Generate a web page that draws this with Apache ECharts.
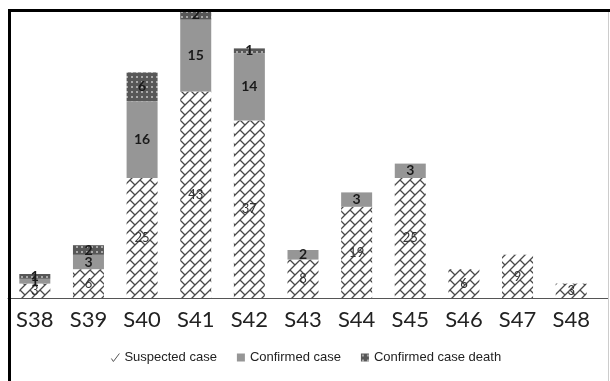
<!DOCTYPE html>
<html>
<head>
<meta charset="utf-8">
<script src="https://cdn.jsdelivr.net/npm/echarts@6/dist/echarts.min.js"></script>
<style>
  html, body { margin: 0; padding: 0; background: #fff; }
  #main { width: 610px; height: 381px; }
</style>
</head>
<body>
<div id="main"></div>
<script>
// weeks
var weeks = ['S38', 'S39', 'S40', 'S41', 'S42', 'S43', 'S44', 'S45', 'S46', 'S47', 'S48'];
// cases per week
var suspected = [3, 6, 25, 43, 37, 8, 19, 25, 6, 9, 3];
var confirmed = [1, 3, 16, 15, 14, 2, 3, 3, null, null, null];
var deaths = [1, 2, 6, 2, 1, null, null, null, null, null, null];

// diagonal brick hatch for suspected cases
function brickPattern() {
    var c = document.createElement('canvas');
    c.width = 10; c.height = 10;
    var ctx = c.getContext('2d');
    ctx.fillStyle = '#fff';
    ctx.fillRect(0, 0, 10, 10);
    ctx.strokeStyle = '#4a4a4a';
    ctx.lineWidth = 1.3;
    ctx.beginPath();
    ctx.moveTo(-1, 11); ctx.lineTo(11, -1);
    ctx.moveTo(-1, 1); ctx.lineTo(1, -1);
    ctx.moveTo(9, 11); ctx.lineTo(11, 9);
    ctx.moveTo(0, 0); ctx.lineTo(5, 5);
    ctx.stroke();
    return c;
}

// dotted dark fill for deaths
function dotPattern() {
    var c = document.createElement('canvas');
    c.width = 5; c.height = 5;
    var ctx = c.getContext('2d');
    ctx.fillStyle = '#575757';
    ctx.fillRect(0, 0, 5, 5);
    ctx.fillStyle = '#a9a9a9';
    ctx.fillRect(1, 1, 2, 2);
    return c;
}

var brick = { image: brickPattern(), repeat: 'repeat' };
var dots = { image: dotPattern(), repeat: 'repeat' };

var myChart = echarts.init(document.getElementById('main'));

var labelStyle = {
    show: true,
    position: 'inside',
    color: '#1a1a1a',
    fontFamily: 'Lato',
    fontWeight: 'bold',
    fontSize: 14
};

option = {
    animation: false,
    backgroundColor: '#fff',
    grid: {
        left: 8,
        right: 12,
        top: 10,
        bottom: 83
    },
    legend: {
        bottom: 12,
        left: 'center',
        itemWidth: 8,
        itemHeight: 8,
        itemGap: 20,
        textStyle: {
            color: '#222',
            fontFamily: 'Liberation Sans',
            fontSize: 13
        },
        data: [
            {
                name: 'Suspected case',
                icon: 'path://M0,5 L2,8 L8,0',
                itemStyle: { color: 'none', borderColor: '#555', borderWidth: 1 }
            },
            { name: 'Confirmed case', icon: 'rect' },
            { name: 'Confirmed case death', icon: 'rect' }
        ]
    },
    xAxis: {
        type: 'category',
        data: weeks,
        axisLine: { lineStyle: { color: '#555', width: 1 } },
        axisTick: { show: false },
        axisLabel: {
            color: '#222',
            fontFamily: 'Lato',
            fontSize: 22,
            margin: 11
        }
    },
    yAxis: {
        type: 'value',
        min: 0,
        max: 60,
        show: false,
        splitLine: { show: false }
    },
    series: [
        {
            name: 'Suspected case',
            type: 'bar',
            stack: 'cases',
            barWidth: 31,
            data: suspected,
            itemStyle: { color: brick },
            label: Object.assign({}, labelStyle, { color: '#333', fontWeight: 'normal', fontSize: 13 })
        },
        {
            name: 'Confirmed case',
            type: 'bar',
            stack: 'cases',
            barWidth: 31,
            data: confirmed,
            itemStyle: { color: '#969696' },
            label: labelStyle
        },
        {
            name: 'Confirmed case death',
            type: 'bar',
            stack: 'cases',
            barWidth: 31,
            data: deaths,
            itemStyle: { color: dots },
            label: labelStyle
        }
    ],
    graphic: [
        // frame
        { type: 'line', shape: { x1: 9.5, y1: 9, x2: 9.5, y2: 381 }, style: { stroke: '#000', lineWidth: 3 }, z: 100 },
        { type: 'line', shape: { x1: 8, y1: 10.5, x2: 610, y2: 10.5 }, style: { stroke: '#000', lineWidth: 3 }, z: 100 },
        { type: 'line', shape: { x1: 608.5, y1: 12, x2: 608.5, y2: 381 }, style: { stroke: '#ccc', lineWidth: 1 }, z: 100 },
        // axis line continues to the frame
        { type: 'line', shape: { x1: 597, y1: 298.5, x2: 608, y2: 298.5 }, style: { stroke: '#555', lineWidth: 1 } }
    ]
};

myChart.setOption(option);
</script>
</body>
</html>
